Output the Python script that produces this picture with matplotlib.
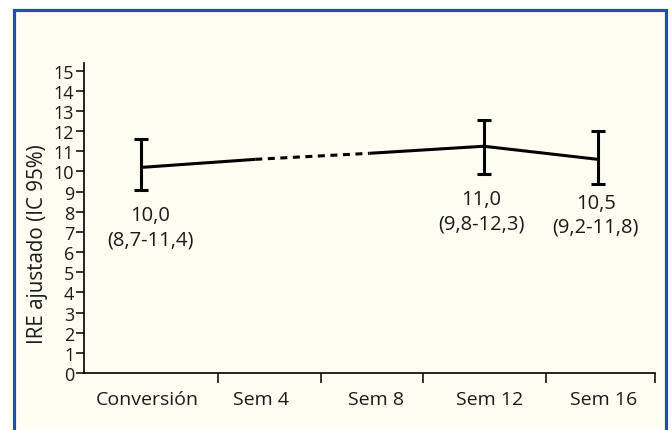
import matplotlib.pyplot as plt
from matplotlib.patches import Rectangle
from matplotlib.transforms import ScaledTranslation

plt.rcParams['font.family'] = ['Open Sans', 'DejaVu Sans']

categories = ['Conversión', 'Sem 4', 'Sem 8', 'Sem 12', 'Sem 16']
ire_mean = [10.2, 10.6, 10.9, 11.25, 10.6]
ci_low = [9.08, None, None, 9.89, 9.36]
ci_high = [11.6, None, None, 12.54, 12.0]
labels = ['10,0\n(8,7-11,4)', None, None, '11,0\n(9,8-12,3)', '10,5\n(9,2-11,8)']
# boundary ticks between categories, as drawn in the original
sep_ticks = [0.673, 1.575, 2.468, 3.545, 4.5]

fig = plt.figure(figsize=(6.71, 4.31), dpi=100)
fig.patch.set_facecolor('white')
frame = Rectangle((14 / 671, -0.05), 652 / 671, 1.05 - 11 / 431,
                  transform=fig.transFigure, facecolor='#fefef2',
                  edgecolor='#1f4fa8', linewidth=2.3, zorder=-10)
fig.patches.append(frame)

ax = fig.add_axes([84 / 671, 57 / 431, 571 / 671, 310 / 431])
ax.set_facecolor('none')

x = list(range(len(categories)))
ax.plot(x[0:2], ire_mean[0:2], color='black', lw=2.2, solid_capstyle='butt')
ax.plot(x[1:3], ire_mean[1:3], color='black', lw=2.2, dashes=[2.3, 1.8])
ax.plot(x[2:5], ire_mean[2:5], color='black', lw=2.2, solid_capstyle='butt')

err_x = [i for i in x if ci_low[i] is not None]
err_y = [ire_mean[i] for i in err_x]
err_lo = [ire_mean[i] - ci_low[i] for i in err_x]
err_hi = [ci_high[i] - ire_mean[i] for i in err_x]
ax.errorbar(err_x, err_y, yerr=[err_lo, err_hi], fmt='none', ecolor='black',
            elinewidth=2.2, capsize=5, capthick=2.2)

label_offsets = {0: (6.5, -27), 3: (-1.5, -27), 4: (-1.5, -22)}
for i in err_x:
    dx, dy = label_offsets[i]
    ax.annotate(labels[i], xy=(i, ci_low[i]), xytext=(dx, dy),
                textcoords='offset points', ha='center', va='center',
                fontsize=14.5, linespacing=1.28, color='#1a1a1a')

ax.set_xlim(-0.5, 4.5)
ax.set_ylim(0, 15.38)
ax.set_yticks(range(0, 16))
ax.set_xticks(x)
ax.set_xticklabels(categories)
ax.set_xticks(sep_ticks, minor=True)
ax.tick_params(axis='x', which='major', length=0, pad=12, labelsize=14,
               labelcolor='#1a1a1a')
ax.tick_params(axis='x', which='minor', length=7, width=1.1, direction='out')
ax.tick_params(axis='y', length=6, width=1.1, pad=1, labelsize=13,
               labelcolor='#1a1a1a')
shift = ScaledTranslation(6 / 100, 0, fig.dpi_scale_trans)
for lab in ax.get_xticklabels():
    lab.set_transform(lab.get_transform() + shift)

for s in ['top', 'right']:
    ax.spines[s].set_visible(False)
for s in ['left', 'bottom']:
    ax.spines[s].set_linewidth(1.2)

ax.set_ylabel('IRE ajustado (IC 95%)', fontsize=14.8, color='#1a1a1a')
ax.yaxis.set_label_coords(-0.063, 0.419)

fig.savefig('out.png', dpi=100)
